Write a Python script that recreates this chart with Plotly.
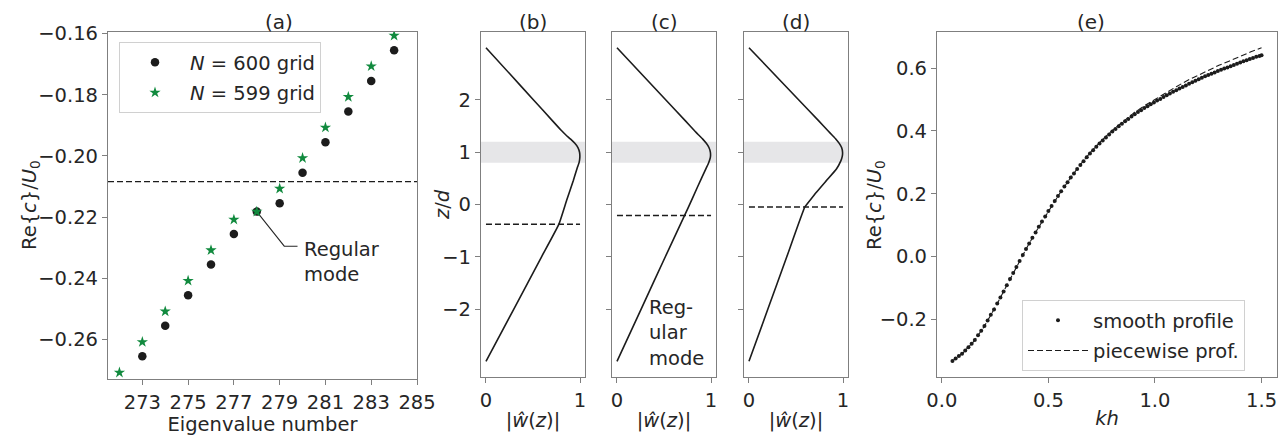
import plotly.graph_objects as go

# ---------------- data ----------------
# (a) eigenvalues
eig_600 = [273, 274, 275, 276, 277, 278, 279, 280, 281, 282, 283, 284]
c_600 = [-0.2655, -0.2555, -0.2455, -0.2355, -0.2255, -0.2182, -0.2155,
         -0.2055, -0.1955, -0.1855, -0.1755, -0.1655]
eig_599 = [272, 273, 274, 275, 276, 277, 278, 279, 280, 281, 282, 283, 284]
c_599 = [-0.2708, -0.2608, -0.2508, -0.2408, -0.2308, -0.2208, -0.2182,
         -0.2107, -0.2007, -0.1907, -0.1807, -0.1707, -0.1607]
c_ref_a = -0.2084
regular_mode_number = 278
regular_mode_c = -0.2182

# (b)-(d) eigenfunctions |w(z)|
z_b = [3.0, 2.5, 2.0, 1.6, 1.41, 1.33, 1.25, 1.17, 1.09, 1.0, 0.9, 0.8, 0.7, 0.46, 0.08, -0.37, -1.0, -2.0, -3.0]
w_b = [0.0, 0.253, 0.506, 0.708, 0.805, 0.85, 0.9, 0.945, 0.978, 0.995, 0.998, 0.99, 0.97, 0.929, 0.858, 0.777, 0.591, 0.296, 0.0]
z_c = [3.0, 2.0, 1.6, 1.41, 1.33, 1.25, 1.17, 1.09, 1.0, 0.9, 0.8, 0.7, 0.33, -0.05, -1.0, -2.0, -3.0]
w_c = [0.0, 0.52, 0.728, 0.825, 0.868, 0.912, 0.95, 0.978, 0.993, 0.993, 0.975, 0.95, 0.855, 0.76, 0.514, 0.257, 0.0]
z_d = [3.0, 2.0, 1.6, 1.41, 1.33, 1.25, 1.17, 1.09, 1.0, 0.92, 0.84, 0.68, 0.457, 0.234, 0.013, -0.05, -1.0, -2.0, -3.0]
w_d = [0.0, 0.53, 0.742, 0.84, 0.883, 0.925, 0.96, 0.985, 0.995, 0.992, 0.978, 0.93, 0.823, 0.717, 0.62, 0.593, 0.402, 0.201, 0.0]
crit_levels = [-0.38, -0.21, -0.05]      # dashed lines in (b), (c), (d)
dashed_w = [0.0, 1.0]
shear_band = [0.8, 1.2]

# (e) dispersion
kh_smooth = [0.050, 0.065, 0.080, 0.095, 0.110, 0.125, 0.140, 0.155, 0.170, 0.185,
             0.200, 0.215, 0.230, 0.245, 0.260, 0.275, 0.290, 0.305, 0.320, 0.335,
             0.350, 0.365, 0.380, 0.395, 0.410, 0.425, 0.440, 0.455, 0.470, 0.485,
             0.500, 0.515, 0.530, 0.545, 0.560, 0.575, 0.590, 0.605, 0.620, 0.635,
             0.650, 0.665, 0.680, 0.695, 0.710, 0.725, 0.740, 0.755, 0.770, 0.785,
             0.800, 0.815, 0.830, 0.845, 0.860, 0.875, 0.890, 0.905, 0.920, 0.935,
             0.950, 0.965, 0.980, 0.995, 1.010, 1.025, 1.040, 1.055, 1.070, 1.085,
             1.100, 1.115, 1.130, 1.145, 1.160, 1.175, 1.190, 1.205, 1.220, 1.235,
             1.250, 1.265, 1.280, 1.295, 1.310, 1.325, 1.340, 1.355, 1.370, 1.385,
             1.400, 1.415, 1.430, 1.445, 1.460, 1.475, 1.490, 1.500]
c_smooth = [-0.332, -0.324, -0.316, -0.309, -0.299, -0.288, -0.277, -0.265, -0.250, -0.236,
            -0.221, -0.203, -0.185, -0.168, -0.149, -0.130, -0.111, -0.091, -0.071, -0.052,
            -0.033, -0.014, 0.005, 0.024, 0.042, 0.060, 0.077, 0.095, 0.112, 0.128,
            0.145, 0.161, 0.177, 0.193, 0.208, 0.223, 0.237, 0.252, 0.265, 0.279,
            0.292, 0.304, 0.316, 0.328, 0.339, 0.350, 0.360, 0.370, 0.379, 0.389,
            0.398, 0.406, 0.415, 0.423, 0.431, 0.438, 0.446, 0.453, 0.460, 0.466,
            0.473, 0.479, 0.485, 0.491, 0.497, 0.502, 0.508, 0.514, 0.519, 0.525,
            0.530, 0.535, 0.540, 0.545, 0.550, 0.555, 0.560, 0.565, 0.569, 0.574,
            0.578, 0.582, 0.586, 0.591, 0.595, 0.599, 0.602, 0.606, 0.610, 0.614,
            0.618, 0.622, 0.625, 0.629, 0.632, 0.636, 0.639, 0.641]
kh_piece = [0.05, 0.10, 0.15, 0.20, 0.25, 0.30, 0.35, 0.40, 0.45, 0.50,
            0.55, 0.60, 0.65, 0.70, 0.75, 0.80, 0.85, 0.90, 0.95, 1.00,
            1.05, 1.10, 1.15, 1.20, 1.25, 1.30, 1.35, 1.40, 1.45, 1.50]
c_piece = [-0.332, -0.306, -0.270, -0.221, -0.162, -0.098, -0.033, 0.030, 0.089, 0.145,
           0.198, 0.247, 0.293, 0.334, 0.370, 0.402, 0.431, 0.457, 0.480, 0.501,
           0.522, 0.541, 0.560, 0.577, 0.593, 0.609, 0.623, 0.638, 0.652, 0.665]

# ---------------- style ----------------
FONT = "DejaVu Sans"
FS = 19.5
TXT = "#262626"
SPINE = "#7f7f7f"
BLACK = "#1c1c1c"
GREEN = "#118a3e"
OFF = 8                     # page body margin of the html
W, H = 1286 - OFF, 437 - OFF


def px_x(a, b):
    return [(a - OFF) / W, (b - OFF) / W]


def px_y(top, bottom):
    return [1 - (bottom - OFF) / H, 1 - (top - OFF) / H]


def fx(a):
    return (a - OFF) / W


def fy(t):
    return 1 - (t - OFF) / H


fig = go.Figure()

# (a)
fig.add_trace(go.Scatter(x=[regular_mode_number, 279.2, 279.78],
                         y=[regular_mode_c, -0.2295, -0.2295],
                         mode="lines", line=dict(color=TXT, width=1.1),
                         showlegend=False, hoverinfo="skip", xaxis="x", yaxis="y"))
fig.add_trace(go.Scatter(x=eig_600, y=c_600, mode="markers", name="<i>N</i> = 600 grid",
                         marker=dict(color=BLACK, size=8.5), xaxis="x", yaxis="y",
                         legend="legend", legendgroup="g1"))
fig.add_trace(go.Scatter(x=eig_599, y=c_599, mode="markers", name="<i>N</i> = 599 grid",
                         marker=dict(color=GREEN, size=8.5, symbol="star"), xaxis="x", yaxis="y",
                         legend="legend", legendgroup="g2"))

# (b)-(d)
profiles = [(w_b, z_b, "x2", "y2"), (w_c, z_c, "x3", "y3"), (w_d, z_d, "x4", "y4")]
for (w, z, xa, ya), lev in zip(profiles, crit_levels):
    fig.add_trace(go.Scatter(x=w, y=z, mode="lines",
                             line=dict(color=BLACK, width=1.6, shape="spline", smoothing=0.4),
                             showlegend=False, xaxis=xa, yaxis=ya))
    fig.add_trace(go.Scatter(x=dashed_w, y=[lev, lev], mode="lines",
                             line=dict(color=BLACK, width=1.5, dash="6px,3px"),
                             showlegend=False, xaxis=xa, yaxis=ya))

# (e)
fig.add_trace(go.Scatter(x=kh_piece, y=c_piece, mode="lines", name="piecewise prof.",
                         line=dict(color=BLACK, width=1.1, dash="6px,3px"),
                         xaxis="x5", yaxis="y5", legend="legend2", legendgroup="h2"))
fig.add_trace(go.Scatter(x=kh_smooth, y=c_smooth, mode="markers", name="smooth profile",
                         marker=dict(color=BLACK, size=4), xaxis="x5", yaxis="y5",
                         legend="legend2", legendgroup="h1", legendrank=1))

axis_common = dict(showgrid=False, zeroline=False, showline=True, mirror=True, automargin=False,
                   linecolor=SPINE, linewidth=1.2, ticks="outside", ticklen=5,
                   tickwidth=1.1, tickcolor=SPINE,
                   tickfont=dict(family=FONT, size=FS, color=TXT))
title_font = dict(family=FONT, size=FS, color=TXT)

ydom_a = px_y(32, 379)
ydom = px_y(32, 377)

layout = dict(
    width=W, height=H, margin=dict(l=0, r=0, t=0, b=0, autoexpand=False),
    paper_bgcolor="white", plot_bgcolor="white",
    font=dict(family=FONT, size=FS, color=TXT),
    xaxis=dict(axis_common, domain=px_x(108, 417), range=[271.5, 285], tickvals=list(range(273, 286, 2)),
               anchor="y", title=dict(text="Eigenvalue number", font=title_font, standoff=2)),
    yaxis=dict(axis_common, domain=ydom_a, range=[-0.2729, -0.1595], tick0=-0.26, dtick=0.02,
               tickformat=".2f", anchor="x"),
    xaxis5=dict(axis_common, domain=px_x(937, 1277), range=[-0.0225, 1.5725], tickvals=[0, 0.5, 1.0, 1.5],
                tickformat=".1f", anchor="y5", title=dict(text="<i>kh</i>", font=title_font, standoff=0)),
    yaxis5=dict(axis_common, domain=ydom, range=[-0.383, 0.715], tickvals=[-0.2, 0, 0.2, 0.4, 0.6],
                tickformat=".1f", anchor="x5"),
    legend=dict(x=fx(119), y=fy(42), xanchor="left", yanchor="top",
                bordercolor="#d0d0d0", borderwidth=1, bgcolor="rgba(255,255,255,0.85)",
                font=dict(family=FONT, size=FS, color=TXT), itemwidth=60, tracegroupgap=2),
    legend2=dict(x=fx(1022), y=fy(300), xanchor="left", yanchor="top",
                 bordercolor="#d0d0d0", borderwidth=1, bgcolor="rgba(255,255,255,0.85)",
                 font=dict(family=FONT, size=FS, color=TXT), itemwidth=60, tracegroupgap=2),
)
xdoms = [px_x(481, 585), px_x(612, 716), px_x(744, 848)]
for i, xd in enumerate(xdoms, start=2):
    layout[f"xaxis{i}"] = dict(axis_common, domain=xd, range=[-0.053, 1.053], tickvals=[0, 1], anchor=f"y{i}",
                               title=dict(text="|<i>ŵ</i>(<i>z</i>)|", font=title_font, standoff=2))
    layout[f"yaxis{i}"] = dict(axis_common, domain=ydom, range=[-3.3, 3.3], tickvals=[-2, -1, 0, 1, 2],
                               showticklabels=(i == 2), anchor=f"x{i}")
fig.update_layout(**layout)

# shapes: reference line in (a), shear band in (b)-(d)
fig.add_shape(type="line", xref="x domain", yref="y", x0=0, x1=1, y0=c_ref_a, y1=c_ref_a,
              line=dict(color=BLACK, width=1.4, dash="6px,3px"))
for i in (2, 3, 4):
    fig.add_shape(type="rect", xref=f"x{i} domain", yref=f"y{i}", x0=0, x1=1,
                  y0=shear_band[0], y1=shear_band[1], fillcolor="#e6e6e8", line_width=0, layer="below")

# panel titles
for lab, xd in zip(["(a)", "(b)", "(c)", "(d)", "(e)"],
                   [px_x(108, 417)] + xdoms + [px_x(937, 1277)]):
    fig.add_annotation(text=lab, xref="paper", yref="paper", x=(xd[0] + xd[1]) / 2, y=1.0,
                       yanchor="top", showarrow=False, font=dict(family=FONT, size=20, color=TXT))

# y-axis titles
ytitle = "Re{<i>c</i>}/<i>U</i><sub>0</sub>"
for txt, xp in [(ytitle, 30), ("<i>z</i>/<i>d</i>", 442), (ytitle, 875)]:
    fig.add_annotation(text=txt, xref="paper", yref="paper", x=fx(xp), y=fy(205),
                       xanchor="center", yanchor="middle", textangle=-90, showarrow=False,
                       font=title_font)

# text annotations
fig.add_annotation(text="Regular<br>mode", xref="x", yref="y", x=279.98, y=-0.2345, xanchor="left",
                   align="left", showarrow=False, font=dict(family=FONT, size=FS, color=TXT))
fig.add_annotation(text="Reg-<br>ular<br>mode", xref="x3", yref="y3", x=0.32, y=-2.46, xanchor="left",
                   align="left", showarrow=False, font=dict(family=FONT, size=FS, color=TXT))

fig.write_html("out.html")
